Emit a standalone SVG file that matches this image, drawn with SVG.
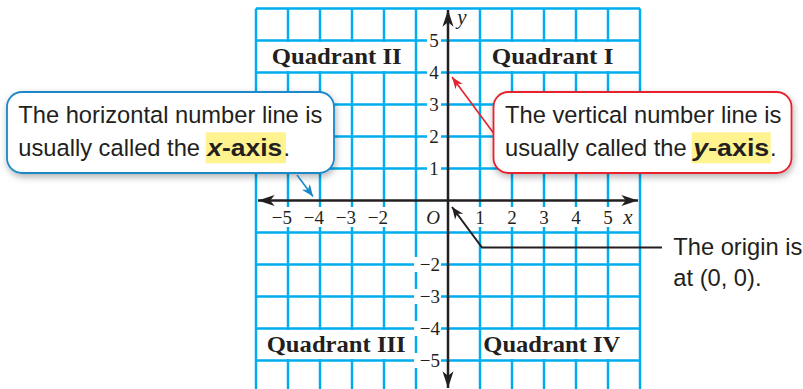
<svg xmlns="http://www.w3.org/2000/svg" width="803" height="389" viewBox="0 0 803 389">
<style>
.grid{stroke:#00AEEF;stroke-width:2.5;fill:none}
.bg{fill:#fff}
.axis{stroke:#231F20;stroke-width:2.5;fill:none}
.tick{font-family:"Liberation Serif",serif;font-size:19px;fill:#231F20}
.quad{font-family:"Liberation Serif",serif;font-size:23px;font-weight:bold;fill:#231F20}
.note{font-family:"Liberation Sans",Arial,sans-serif;font-size:23.7px;fill:#231F20}
.hl{fill:#FFF38F}
.bold{font-weight:bold}
</style>
<defs>
<marker id="ah" markerUnits="userSpaceOnUse" markerWidth="20" markerHeight="20" viewBox="-16 -8 18 16" refX="0" refY="0" orient="auto-start-reverse">
<path d="M0,0 L-15,-5 L-11,0 L-15,5 Z" fill="#231F20"/>
</marker>
<marker id="ahs" markerUnits="userSpaceOnUse" markerWidth="16" markerHeight="16" viewBox="-14 -7 16 14" refX="0" refY="0" orient="auto">
<path d="M0,0 L-12,-5 L-8.5,0 L-12,5 Z" fill="#231F20"/>
</marker>
<marker id="ahr" markerUnits="userSpaceOnUse" markerWidth="16" markerHeight="16" viewBox="-14 -7 16 14" refX="0" refY="0" orient="auto">
<path d="M0,0 L-12,-4.5 L-8.5,0 L-12,4.5 Z" fill="#E5212E"/>
</marker>
<marker id="ahb" markerUnits="userSpaceOnUse" markerWidth="16" markerHeight="16" viewBox="-14 -7 16 14" refX="0" refY="0" orient="auto">
<path d="M0,0 L-12,-5 L-8.5,0 L-12,5 Z" fill="#1B87C9"/>
</marker>
<filter id="sh" x="-10%" y="-20%" width="125%" height="150%">
<feDropShadow dx="1" dy="3" stdDeviation="3.5" flood-color="#000" flood-opacity="0.3"/>
</filter>
</defs>

<g id="grid">
<path class="grid" d="M256,8.5V389 M288,8.5V389 M320,8.5V389 M352,8.5V389 M384,8.5V389 M416,8.5V389 M480,8.5V389 M512,8.5V389 M544,8.5V389 M576,8.5V389 M608,8.5V389 M640,8.5V389 M256,8.5H640 M256,40.5H640 M256,72.5H640 M256,104.5H640 M256,136.5H640 M256,168.5H640 M256,232.5H640 M256,264.5H640 M256,296.5H640 M256,328.5H640 M256,360.5H640"/>
</g>

<g id="label-backgrounds" class="bg">
<rect x="258.5" y="42" width="155.5" height="29"/>
<rect x="482.5" y="42" width="155" height="29"/>
<rect x="258.5" y="330" width="155.5" height="29"/>
<rect x="482.5" y="330" width="155" height="29"/>
<rect x="427" y="33" width="14" height="15"/>
<rect x="427" y="65" width="14" height="15"/>
<rect x="427" y="97" width="14" height="15"/>
<rect x="427" y="129" width="14" height="15"/>
<rect x="427" y="161" width="14" height="15"/>
<rect x="414" y="257" width="27" height="15"/>
<rect x="414" y="289" width="27" height="15"/>
<rect x="414" y="321" width="27" height="15"/>
<rect x="414" y="353" width="27" height="15"/>
<rect x="267" y="207" width="26" height="20"/>
<rect x="299" y="207" width="26" height="20"/>
<rect x="331" y="207" width="26" height="20"/>
<rect x="363" y="207" width="26" height="20"/>
<rect x="474" y="207" width="12" height="20"/>
<rect x="506" y="207" width="12" height="20"/>
<rect x="538" y="207" width="12" height="20"/>
<rect x="570" y="207" width="12" height="20"/>
<rect x="602" y="207" width="12" height="20"/>
</g>

<g id="axes">
<line class="axis" x1="258" y1="200.5" x2="638" y2="200.5" marker-start="url(#ah)" marker-end="url(#ah)"/>
<line class="axis" x1="448" y1="388" x2="448" y2="10" marker-start="url(#ah)" marker-end="url(#ah)"/>
</g>

<g id="tick-labels" class="tick">
<text x="434" y="47" text-anchor="middle">5</text>
<text x="434" y="79" text-anchor="middle">4</text>
<text x="434" y="111" text-anchor="middle">3</text>
<text x="434" y="143" text-anchor="middle">2</text>
<text x="434" y="175" text-anchor="middle">1</text>
<text x="440" y="271" text-anchor="end">−2</text>
<text x="440" y="303" text-anchor="end">−3</text>
<text x="440" y="335" text-anchor="end">−4</text>
<text x="440" y="367" text-anchor="end">−5</text>
<text x="292" y="223.5" text-anchor="end">−5</text>
<text x="324" y="223.5" text-anchor="end">−4</text>
<text x="356" y="223.5" text-anchor="end">−3</text>
<text x="388" y="223.5" text-anchor="end">−2</text>
<text x="433" y="223.5" text-anchor="middle" font-style="italic">O</text>
<text x="480" y="223.5" text-anchor="middle">1</text>
<text x="512" y="223.5" text-anchor="middle">2</text>
<text x="544" y="223.5" text-anchor="middle">3</text>
<text x="576" y="223.5" text-anchor="middle">4</text>
<text x="608" y="223.5" text-anchor="middle">5</text>
<text x="628" y="223.5" text-anchor="middle" font-style="italic" font-size="21">x</text>
<text x="462" y="24" text-anchor="middle" font-style="italic" font-size="21">y</text>
</g>

<g id="quadrant-II"><text class="quad" x="271.7" y="63.5" textLength="130" lengthAdjust="spacingAndGlyphs">Quadrant II</text></g>
<g id="quadrant-I"><text class="quad" x="491.7" y="63.5" textLength="121.7" lengthAdjust="spacingAndGlyphs">Quadrant I</text></g>
<g id="quadrant-III"><text class="quad" x="266.7" y="352" textLength="139" lengthAdjust="spacingAndGlyphs">Quadrant III</text></g>
<g id="quadrant-IV"><text class="quad" x="483.3" y="352" textLength="137" lengthAdjust="spacingAndGlyphs">Quadrant IV</text></g>

<g id="callout-x-axis">
<rect x="7" y="92" width="327" height="81" rx="15" fill="#fff" stroke="#1B87C9" stroke-width="1.8" filter="url(#sh)"/>
<rect class="hl" x="205.7" y="132.3" width="80.3" height="31"/>
<text class="note" x="18.3" y="123.3">The horizontal number line is</text>
<text class="note" x="18.3" y="156">usually called the </text>
<text class="note bold" x="207.3" y="156" textLength="75" lengthAdjust="spacingAndGlyphs"><tspan font-style="italic">x</tspan>-axis</text>
<text class="note" x="283.5" y="156">.</text>
</g>

<g id="callout-y-axis">
<rect x="493.5" y="92" width="298" height="81" rx="15" fill="#fff" stroke="#E5212E" stroke-width="1.8" filter="url(#sh)"/>
<rect class="hl" x="691.7" y="132.3" width="79" height="31"/>
<text class="note" x="505" y="123.3">The vertical number line is</text>
<text class="note" x="505" y="156">usually called the </text>
<text class="note bold" x="693.3" y="156" textLength="76" lengthAdjust="spacingAndGlyphs"><tspan font-style="italic">y</tspan>-axis</text>
<text class="note" x="770" y="156">.</text>
</g>

<g id="origin-note">
<text class="note" x="673.3" y="255">The origin is</text>
<text class="note" x="673.3" y="286">at (0, 0).</text>
</g>

<g id="connectors">
<line x1="297" y1="175" x2="313" y2="196.5" stroke="#1B87C9" stroke-width="1.6" marker-end="url(#ahb)"/>
<line x1="493.5" y1="133" x2="452" y2="77" stroke="#E5212E" stroke-width="1.6" marker-end="url(#ahr)"/>
<polyline points="662,247.5 482,247.5 452,207" fill="none" stroke="#231F20" stroke-width="2" marker-end="url(#ahs)"/>
</g>
</svg>
